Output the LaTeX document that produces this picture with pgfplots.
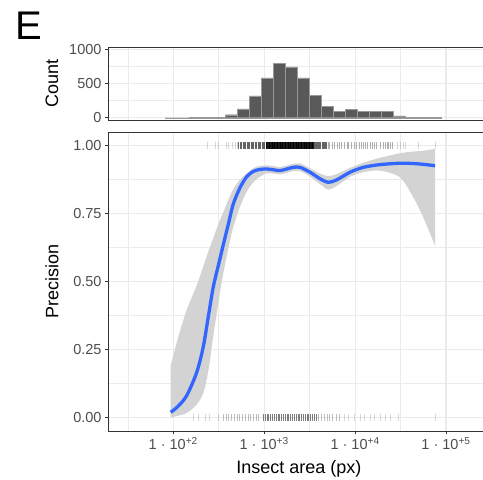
\documentclass[border=0pt]{standalone}
\usepackage{fontspec}
\setmainfont{Liberation Sans}
\usepackage{pgfplots}
\usepackage{pgfplotstable}
\pgfplotsset{compat=1.18}
\usepgfplotslibrary{fillbetween}

\definecolor{grid92}{HTML}{EBEBEB}
\definecolor{frame20}{HTML}{333333}
\definecolor{lab30}{HTML}{4D4D4D}
\definecolor{bar35}{HTML}{595959}
\definecolor{smoothblue}{HTML}{3366FF}
\definecolor{band}{HTML}{D3D3D3}

% x values are log10(insect area in px)
\pgfplotstableread{
x      count
1.912  1
2.044  0
2.176  3
2.308  2
2.440  10
2.572  44
2.703  131
2.835  320
2.967  583
3.099  791
3.231  743
3.363  583
3.495  330
3.627  165
3.759  97
3.891  126
4.023  92
4.154  92
4.286  92
4.418  29
4.550  5
4.682  2
4.814  3
4.946  0
}\histtab

% smooth fit with its confidence band
\pgfplotstableread{
x      prec   lo     hi
1.972  0.019  0.000  0.191
2.050  0.040  0.006  0.290
2.147  0.080  0.016  0.395
2.257  0.165  0.047  0.485
2.330  0.260  0.090  0.555
2.385  0.370  0.170  0.610
2.440  0.480  0.300  0.660
2.500  0.565  0.430  0.715
2.550  0.635  0.530  0.755
2.605  0.710  0.620  0.800
2.660  0.785  0.700  0.840
2.734  0.845  0.775  0.875
2.807  0.885  0.830  0.898
2.880  0.905  0.865  0.917
2.950  0.912  0.885  0.925
3.027  0.914  0.898  0.927
3.100  0.911  0.897  0.925
3.174  0.908  0.894  0.921
3.250  0.914  0.900  0.927
3.320  0.920  0.906  0.933
3.394  0.920  0.906  0.934
3.504  0.902  0.886  0.917
3.614  0.878  0.858  0.897
3.705  0.865  0.838  0.888
3.798  0.874  0.852  0.895
3.944  0.902  0.885  0.918
4.090  0.920  0.902  0.937
4.274  0.930  0.908  0.955
4.494  0.935  0.883  0.972
4.640  0.934  0.810  0.978
4.750  0.931  0.736  0.981
4.879  0.926  0.632  0.988
}\fittab

\pgfplotsset{
  ggpanel/.style={
    scale only axis, width=382bp,
    xmin=1.282, xmax=5.484,
    axis line style={draw=frame20, line width=0.6bp},
    grid=both,
    major grid style={draw=grid92, line width=1.1bp},
    minor grid style={draw=grid92, line width=0.55bp},
    tick align=outside, tick pos=left,
    major tick length=3bp, minor tick length=0pt,
    tick style={draw=frame20, line width=0.6bp},
    ticklabel style={font=\fontsize{14.5bp}{17bp}\selectfont, text=lab30},
    label style={font=\fontsize{18bp}{21bp}\selectfont, text=black},
    xtick={2,3,4,5}, minor xtick={1.5,2.5,3.5,4.5},
    every axis y label/.style={at={(axis description cs:-0.1466,0.5)}, anchor=center, rotate=90,
      font=\fontsize{18bp}{21bp}\selectfont},
  },
  rug/.style={only marks, mark=|, mark size=3.5bp, mark options={line width=0.5bp, draw=black}, opacity=#1},
}

\begin{document}
\begin{tikzpicture}
\node[anchor=base west, inner sep=0pt, font=\fontsize{40bp}{40bp}\selectfont] at (15bp,-39bp) {E};

% histogram panel
\begin{axis}[ggpanel, at={(108bp,-47bp)}, anchor=north west,
  height=73bp, ymin=-33, ymax=1033,
  ytick={0,500,1000}, yticklabels={0,500,1000}, minor ytick={250,750},
  xticklabels={}, x tick style={draw=none},
  ylabel={Count}]
\addplot[ybar interval, fill=bar35, draw=black!40, line width=0.3bp] table[x=x, y=count] {\histtab};
\end{axis}

% precision panel
\begin{axis}[ggpanel, at={(108bp,-132bp)}, anchor=north west,
  height=299bp, ymin=-0.05, ymax=1.05,
  ytick={0,0.25,0.5,0.75,1}, yticklabels={0.00,0.25,0.50,0.75,1.00},
  minor ytick={0.125,0.375,0.625,0.875},
  xticklabels={1 · 10\textsuperscript{+2}, 1 · 10\textsuperscript{+3}, 1 · 10\textsuperscript{+4}, 1 · 10\textsuperscript{+5}},
  ylabel={Precision}, xlabel={Insect area (px)},
  xlabel style={at={(axis description cs:0.4995,-0.1421)}, anchor=base}]

% rug at precision = 1
\addplot[rug=0.15]
  coordinates {(2.37,1)(2.46,1)(2.49,1)(2.58,1)(2.61,1)(2.65,1)(2.68,1)(2.70,1)
  (4.46,1)(4.50,1)(4.53,1)(4.55,1)(4.69,1)(4.88,1)};
\addplot[rug=0.3]
  coordinates {(3.70,1)(3.72,1)(3.75,1)(3.77,1)(3.80,1)(3.83,1)(3.85,1)(3.88,1)(3.91,1)(3.93,1)(3.96,1)
  (3.99,1)(4.01,1)(4.05,1)(4.07,1)(4.09,1)(4.11,1)(4.13,1)(4.17,1)(4.19,1)(4.21,1)(4.23,1)
  (4.28,1)(4.31,1)(4.33,1)(4.35,1)(4.37,1)(4.39,1)(4.41,1)};
\addplot[rug=0.6]
  coordinates {(2.72,1)(2.735,1)(2.75,1)(2.765,1)(2.78,1)(2.795,1)(2.81,1)(2.825,1)(2.84,1)(2.855,1)
  (2.87,1)(2.885,1)(2.90,1)(2.915,1)(2.93,1)(2.945,1)(2.96,1)(2.975,1)(2.99,1)(3.005,1)};
\addplot[rug=0.9]
  coordinates {(3.020,1)(3.028,1)(3.036,1)(3.044,1)(3.052,1)(3.060,1)(3.068,1)(3.076,1)(3.084,1)
  (3.092,1)(3.100,1)(3.108,1)(3.116,1)(3.124,1)(3.132,1)(3.140,1)(3.148,1)(3.156,1)(3.164,1)
  (3.172,1)(3.180,1)(3.188,1)(3.196,1)(3.204,1)(3.212,1)(3.220,1)(3.228,1)(3.236,1)(3.244,1)
  (3.252,1)(3.260,1)(3.268,1)(3.276,1)(3.284,1)(3.292,1)(3.300,1)(3.308,1)(3.316,1)(3.324,1)
  (3.332,1)(3.340,1)(3.348,1)(3.356,1)(3.364,1)(3.372,1)(3.380,1)(3.388,1)(3.396,1)(3.404,1)
  (3.412,1)(3.420,1)(3.428,1)(3.436,1)(3.444,1)(3.452,1)(3.460,1)(3.468,1)(3.476,1)(3.484,1)
  (3.492,1)(3.500,1)(3.508,1)(3.516,1)(3.524,1)(3.532,1)(3.540,1)};
\addplot[rug=0.6]
  coordinates {(3.550,1)(3.562,1)(3.574,1)(3.586,1)(3.598,1)(3.610,1)(3.622,1)(3.634,1)(3.646,1)
  (3.658,1)(3.670,1)(3.682,1)};

% rug at precision = 0
\addplot[rug=0.15]
  coordinates {(2.22,0)(2.27,0)(2.35,0)(2.40,0)(2.49,0)(3.88,0)(3.93,0)(3.99,0)(4.06,0)(4.10,0)
  (4.17,0)(4.21,0)(4.28,0)(4.33,0)(4.39,0)(4.47,0)(4.88,0)};
\addplot[rug=0.25]
  coordinates {(2.55,0)(2.58,0)(2.61,0)(2.64,0)(2.67,0)(2.70,0)(2.73,0)(2.76,0)(2.79,0)(2.82,0)
  (2.85,0)(2.88,0)(2.91,0)(2.94,0)(3.60,0)(3.63,0)(3.66,0)(3.69,0)(3.72,0)(3.75,0)(3.79,0)(3.83,0)};
\addplot[rug=0.5]
  coordinates {(2.99,0)(3.01,0)(3.03,0)(3.05,0)(3.07,0)(3.09,0)(3.11,0)(3.13,0)(3.15,0)(3.17,0)
  (3.19,0)(3.21,0)(3.23,0)(3.25,0)(3.27,0)(3.29,0)(3.31,0)(3.33,0)(3.35,0)(3.37,0)(3.39,0)
  (3.41,0)(3.43,0)(3.45,0)(3.47,0)(3.49,0)(3.51,0)(3.53,0)(3.55,0)(3.57,0)};

% confidence band and smooth
\addplot[name path=hi, draw=none, smooth] table[x=x, y=hi] {\fittab};
\addplot[name path=lo, draw=none, smooth] table[x=x, y=lo] {\fittab};
\addplot[fill=band, draw=none] fill between[of=hi and lo];
\addplot[smoothblue, line width=3.3bp, smooth] table[x=x, y=prec] {\fittab};
\end{axis}

\pgfresetboundingbox
\useasboundingbox (0,0) rectangle (483bp,-480bp);
\end{tikzpicture}
\end{document}
